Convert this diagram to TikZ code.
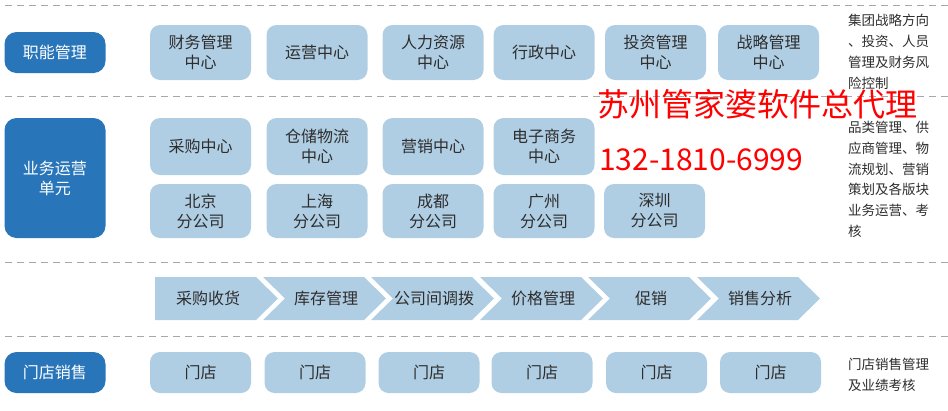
\documentclass[tikz,border=0pt]{standalone}
\usepackage{fontspec}
\setmainfont{Noto Sans CJK SC}
\usetikzlibrary{positioning}

\definecolor{darkblue}{RGB}{40,117,186}
\definecolor{lightblue}{RGB}{176,206,227}
\definecolor{textgray}{RGB}{45,45,45}
\definecolor{dashgray}{RGB}{168,168,168}

\tikzset{
    unitbox/.style={fill=darkblue, rounded corners=12pt, text=white, minimum width=101pt, inner sep=0pt, align=center, font=\fontsize{16}{20}\selectfont},
    deptbox/.style={fill=lightblue, rounded corners=10pt, text=textgray, minimum width=101pt, inner sep=0pt, align=center, font=\fontsize{16}{20}\selectfont},
    flowbox/.style={fill=lightblue, draw=none},
    note/.style={anchor=north west, align=left, text=textgray, inner sep=0pt, font=\fontsize{13.5}{20.8}\selectfont},
    sep/.style={dashgray, line width=1pt, dash pattern=on 7pt off 5pt}
}

\begin{document}
\begin{tikzpicture}[x=1pt, y=-1pt]
        \useasboundingbox (0,0) rectangle (948,410);

        % dashed separators
        \foreach \y in {5,96,262,336} {
            \draw [sep] (5,\y) -- (948,\y);
        }

        % 职能管理
        \node [unitbox, minimum height=41pt] (func) at (55,52.5) {职能管理};
        \foreach \x/\t [count=\i] in {200.5/财务管理\\中心, 317/运营中心, 433/人力资源\\中心, 544/行政中心, 655.5/投资管理\\中心, 768.5/战略管理\\中心} {
            \node [deptbox, minimum height=55pt] (func\i) at (\x,52.5) {\t};
        }
        \node [note] (funcnote) at (848,14) {集团战略方向\\、投资、人员\\管理及财务风\\险控制};

        % 业务运营单元
        \node [unitbox, minimum height=120pt] (biz) at (55,178) {业务运营\\单元};
        \foreach \x/\t [count=\i] in {200.5/采购中心, 317/仓储物流\\中心, 433/营销中心, 544/电子商务\\中心} {
            \node [deptbox, minimum height=57pt] (center\i) at (\x,146.5) {\t};
        }
        \foreach \x/\t [count=\i] in {200.5/北京, 317/上海, 433/成都, 544/广州, 654.5/深圳} {
            \node [deptbox, minimum height=54pt] (branch\i) at (\x,211) {\t\\分公司};
        }
        \node [note] (biznote) at (848,121) {品类管理、供\\应商管理、物\\流规划、营销\\策划及各版块\\业务运营、考\\核};

        % agent text
        \node [anchor=west, inner sep=0pt, text=red, font=\fontsize{32}{32}\selectfont] (agent) at (597,104) {苏州管家婆软件总代理};
        \node [anchor=west, inner sep=0pt, text=red, font=\fontsize{30}{30}\selectfont] (phone) at (599,160) {132-1810-6999};

        % process chevrons
        \foreach \x/\t [count=\i] in {155/采购收货, 263/库存管理, 371/公司间调拨, 480/价格管理, 588/促销, 697/销售分析} {
            \ifnum\i=1
                \fill [flowbox] (\x,277) -- (\x+101,277) -- (\x+123,298.5) -- (\x+101,320) -- (\x,320) -- cycle;
                \node [text=textgray, font=\fontsize{16}{20}\selectfont] (flow\i) at (\x+53,298.5) {\t};
            \else
                \fill [flowbox] (\x,277) -- (\x+101,277) -- (\x+123,298.5) -- (\x+101,320) -- (\x,320) -- (\x+22,298.5) -- cycle;
                \node [text=textgray, font=\fontsize{16}{20}\selectfont] (flow\i) at (\x+63,298.5) {\t};
            \fi
        }

        % 门店销售
        \node [unitbox, minimum height=41pt] (store) at (55,372.5) {门店销售};
        \foreach \x [count=\i] in {200.5,315,429,542,656.5,770.5} {
            \node [deptbox, minimum height=41pt] (store\i) at (\x,372.5) {门店};
        }
        \node [note] (storenote) at (848,358) {门店销售管理\\及业绩考核};
\end{tikzpicture}
\end{document}
